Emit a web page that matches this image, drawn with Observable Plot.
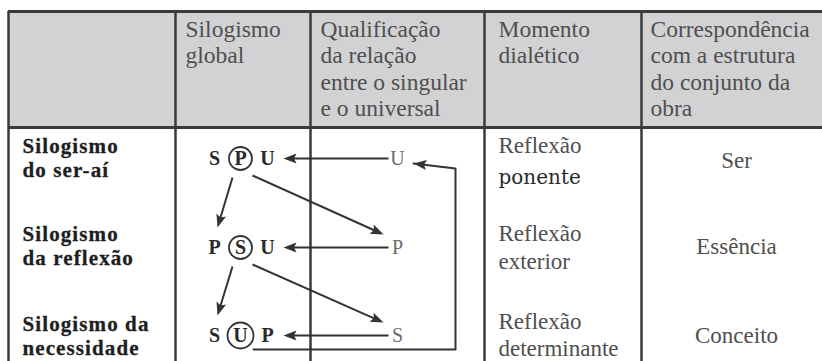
<!DOCTYPE html>
<html><head><meta charset="utf-8">
<script src="https://cdn.jsdelivr.net/npm/d3@7"></script>
<script src="https://cdn.jsdelivr.net/npm/@observablehq/plot@0.6"></script>
<style>
html,body{margin:0;padding:0;background:#fff;}
#chart svg{display:block;}
#chart svg text, #chart svg tspan{font-family:"Liberation Serif","Times New Roman","DejaVu Serif",serif;}
#chart svg .alt-font text{font-family:"DejaVu Serif",serif;}
#chart svg .row-label text{letter-spacing:1.1px;}
</style>
</head><body><div id="chart"></div>
<script>
// ---- data ----
const headers = ["", "Silogismo\nglobal", "Qualificação\nda relação\nentre o singular\ne o universal", "Momento\ndialético", "Correspondência\ncom a estrutura\ndo conjunto da\nobra"];
const rowLabels = ["Silogismo\ndo ser-aí", "Silogismo\nda reflexão", "Silogismo da\nnecessidade"];
const syllogisms = [["S","P","U"],["P","S","U"],["S","U","P"]];
const qualification = ["U","P","S"];
const moments = [["Reflexão","ponente"],["Reflexão","exterior"],["Reflexão","determinante"]];
const correspondence = ["Ser","Essência","Conceito"];

// ---- layout ----
const W = 822, H = 361;
const colEdges = [8, 175, 310, 484, 641];
const headTop = 11, headBottom = 127;
const headerX = [22, 185, 320, 498, 650];
const headBase = 36, headStep = 26.5;
const rowY = [158, 247, 335];
const labelBase = [152, 240, 330], labelStep = 24;
const sylX = [214, 240, 267];
const circleR = [11.5, 11.5, 13];
const qualX = 397;
const loopX = 455;
const momentBase = [152, 240, 328], momentLine2 = [183, 268, 355];
const corrX = 736, corrBase = [167, 253, 342];

const ink = "#333";
const grayText = "#4f4f4f";

// ---- derived mark tables ----
const headerLines = headers.flatMap((h, c) => h ? h.split("\n").map((t, i) => ({c, i, t})) : []);
const labelLines = rowLabels.flatMap((h, r) => h.split("\n").map((t, i) => ({r, i, t})));
const sylLetters = syllogisms.flatMap((s, r) => s.map((t, k) => ({r, k, t})));
const momentLines = moments.flatMap((m, r) => m.map((t, i) => ({r, i, t})));
const circles = rowY.map((y, r) => ({y, r: circleR[r]}));

const arrows = [];
rowY.forEach((y) => {
  arrows.push({x1: qualX - 9, y1: y, x2: sylX[2] + 16, y2: y});
});
for (let r = 0; r < rowY.length - 1; r++) {
  arrows.push({x1: sylX[1] + 12, y1: rowY[r] + 17, x2: qualX - 14, y2: rowY[r + 1] - 13});
  arrows.push({x1: sylX[1] - 8, y1: rowY[r] + 19, x2: sylX[0] + 3, y2: rowY[r + 1] - 20});
}
const loop = [
  {x: sylX[2] - 14, y: rowY[2] + 14},
  {x: loopX, y: rowY[2] + 14},
  {x: loopX, y: rowY[0] + 10},
  {x: qualX + 16, y: rowY[0] + 5}
];
const heads = arrows.map(a => ({x: a.x2, y: a.y2, a: Math.atan2(a.x2 - a.x1, -(a.y2 - a.y1)) * 180 / Math.PI}));
{
  const p = loop[2], q = loop[3];
  heads.push({x: q.x, y: q.y, a: Math.atan2(q.x - p.x, -(q.y - p.y)) * 180 / Math.PI});
}
const shafts = arrows.map(a => {
  const dx = a.x2 - a.x1, dy = a.y2 - a.y1, L = Math.hypot(dx, dy);
  return {x1: a.x1, y1: a.y1, x2: a.x2 - dx / L * 6, y2: a.y2 - dy / L * 6};
});

const arrowHead = {
  draw(ctx) {
    ctx.moveTo(0, 0);
    ctx.lineTo(-5, 13);
    ctx.lineTo(0, 10.5);
    ctx.lineTo(5, 13);
    ctx.closePath();
  }
};

const chart = Plot.plot({
  width: W, height: H, margin: 0,
  x: {domain: [0, W], range: [0, W], axis: null},
  y: {domain: [0, H], range: [0, H], axis: null},
  r: {type: "identity"},
  style: {background: "#fff"},
  marks: [
    Plot.rect([0], {x1: colEdges[0], x2: W, y1: headTop, y2: headBottom, fill: "#d2d2d4"}),
    Plot.ruleX(colEdges, {y1: headTop, y2: H, stroke: "#3a3a3a", strokeWidth: 2.5}),
    Plot.ruleY([headTop, headBottom], {x1: colEdges[0], x2: W, stroke: "#3a3a3a", strokeWidth: 3}),
    Plot.text(headerLines, {x: d => headerX[d.c], y: d => headBase + d.i * headStep, text: "t", textAnchor: "start", lineAnchor: "bottom", fontSize: 23.5, fill: grayText}),
    Plot.text(labelLines, {x: headerX[0], y: d => labelBase[d.r] + d.i * labelStep, text: "t", textAnchor: "start", lineAnchor: "bottom", fontSize: 21, fontWeight: "bold", fill: "#1e1e1e", stroke: "#1e1e1e", strokeWidth: 0.3, className: "row-label"}),
    Plot.dot(circles, {x: sylX[1], y: "y", r: "r", stroke: ink, strokeWidth: 1.8, fill: "none"}),
    Plot.text(sylLetters, {x: d => sylX[d.k], y: d => rowY[d.r], text: "t", lineAnchor: "middle", fontSize: 20, fontWeight: "bold", fill: "#2a2a2a"}),
    Plot.text(qualification, {x: qualX, y: (d, i) => rowY[i], text: d => d, lineAnchor: "middle", fontSize: 20, fill: "#6a6a6a"}),
    Plot.link(shafts, {x1: "x1", y1: "y1", x2: "x2", y2: "y2", stroke: ink, strokeWidth: 2}),
    Plot.line(loop, {x: "x", y: "y", stroke: ink, strokeWidth: 2, curve: "linear"}),
    Plot.dot(heads, {x: "x", y: "y", rotate: "a", symbol: arrowHead, r: 5, fill: ink, stroke: "none"}),
    Plot.text(momentLines.filter(d => !(d.r === 0 && d.i === 1)), {x: headerX[3], y: d => d.i === 0 ? momentBase[d.r] : momentLine2[d.r], text: "t", textAnchor: "start", lineAnchor: "bottom", fontSize: 23, fill: grayText}),
    Plot.text(momentLines.filter(d => d.r === 0 && d.i === 1), {x: headerX[3], y: d => momentLine2[d.r], text: "t", textAnchor: "start", lineAnchor: "bottom", fontSize: 20, fill: "#2a2a2a", className: "alt-font"}),
    Plot.text(correspondence, {x: corrX, y: (d, i) => corrBase[i], text: d => d, textAnchor: "middle", lineAnchor: "bottom", fontSize: 23, fill: grayText})
  ]
});
document.getElementById("chart").appendChild(chart);
</script></body></html>
